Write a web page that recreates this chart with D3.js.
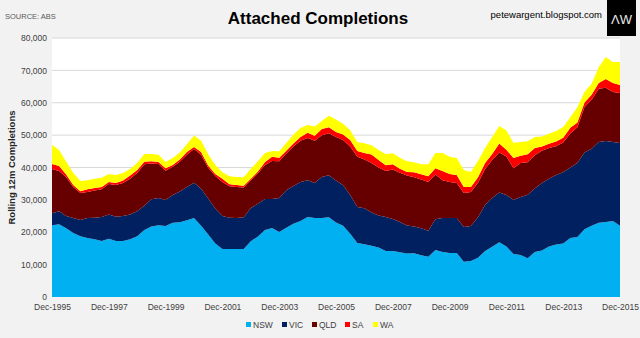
<!DOCTYPE html>
<html>
<head>
<meta charset="utf-8">
<script src="https://cdn.jsdelivr.net/npm/d3@7"></script>
<style>
  body { margin: 0; background: #f2f2f2; }
  svg { display: block; }
  .narrow { font-family: "Liberation Sans Narrow", "Arial Narrow", "Liberation Sans", sans-serif; }
</style>
</head>
<body>
<svg id="chart" width="640" height="338"></svg>
<script>
// quarterly rolling 12m completions, Dec-1995 .. Dec-2015
const seriesNames = ["NSW", "VIC", "QLD", "SA", "WA"];
const seriesColors = ["#00b0f0", "#002060", "#660000", "#ff0000", "#ffff00"];

const nsw = [22200, 22500, 21200, 19800, 18800, 18200, 17800, 17300, 18000, 17300,
  17300, 17800, 18800, 20700, 21800, 22200, 21900, 22900, 23100, 23700,
  24400, 22000, 19300, 16500, 14800, 14800, 14800, 14800, 17200, 18700,
  20700, 21300, 20100, 21400, 22600, 23500, 24700, 24400, 24400, 24600,
  23000, 22000, 19500, 16700, 16300, 15800, 15300, 14200, 14200, 13800,
  13400, 13500, 12900, 12400, 14500, 13900, 13600, 13600, 10900, 11100,
  12100, 14200, 15500, 16900, 15600, 13300, 13000, 12000, 13900, 14400,
  15600, 16200, 16500, 18200, 18500, 20900, 22000, 22900, 23200, 23500, 22000];
const vic = [3700, 4000, 3800, 4600, 5000, 6200, 6700, 7400, 7500, 7500,
  7700, 7700, 7700, 7500, 8400, 8400, 8100, 8600, 9500, 10300,
  10900, 11400, 11100, 10800, 10200, 9700, 9600, 9800, 10300, 10100,
  9600, 9000, 10500, 11600, 11700, 12000, 11400, 10800, 12700, 13000,
  13000, 12500, 12000, 11100, 11100, 10300, 9900, 10500, 9900, 9400,
  8700, 8300, 8300, 8100, 9500, 10500, 10800, 10800, 10700, 10800,
  12500, 14200, 15100, 15400, 15900, 16700, 17900, 19600, 19600, 20800,
  20900, 21500, 22000, 21800, 22900, 23700, 23800, 25000, 25000, 24400, 25600];
const qld = [13600, 12400, 12000, 9600, 8300, 8000, 8400, 8600, 9400, 9800,
  10200, 11000, 11800, 12800, 11000, 10500, 9000, 8700, 9200, 9900,
  10400, 10500, 9500, 10100, 10500, 9700, 9600, 9200, 8500, 9400,
  10500, 11700, 11300, 11300, 12200, 12800, 13000, 13100, 12900, 13000,
  13400, 14000, 15000, 15500, 15100, 15300, 14800, 14200, 15300, 15200,
  15400, 15200, 15100, 15000, 13800, 11700, 11100, 10800, 10500, 10500,
  10700, 11100, 11700, 12300, 11900, 9800, 10500, 10000, 10300, 10000,
  9500, 8900, 9200, 10500, 11000, 14100, 15100, 16400, 16400, 15400, 15400];
const sa = [1600, 1600, 800, 600, 600, 900, 800, 700, 600, 600,
  800, 1000, 900, 800, 700, 600, 800, 600, 700, 900,
  600, 900, 700, 600, 1000, 600, 600, 600, 500, 600,
  900, 1300, 1100, 900, 900, 1100, 1600, 1500, 1900, 1800,
  1600, 1700, 2000, 1800, 2000, 2600, 2300, 1800, 1600, 1200,
  1100, 1500, 1600, 1800, 2000, 2800, 2500, 2500, 1900, 1600,
  1700, 1900, 1900, 2800, 2100, 3100, 2200, 2500, 2200, 1300,
  1300, 1400, 1500, 1800, 1500, 1400, 1600, 1800, 2700, 2800, 2500];
const wa = [5900, 4900, 4000, 3700, 3100, 2800, 2800, 2800, 2500, 2500,
  2300, 2000, 2200, 2400, 2300, 2200, 1900, 2100, 2100, 2400,
  3600, 3500, 3500, 2800, 2000, 2500, 2500, 2600, 3100, 3100,
  2800, 1800, 2000, 2400, 2700, 2800, 2400, 2900, 2500, 3600,
  3800, 3300, 3000, 2800, 3000, 2900, 3100, 3400, 3400, 3400,
  3300, 3100, 3100, 3700, 4700, 5600, 5300, 5200, 5200, 4600,
  5000, 4600, 5200, 5400, 5900, 4700, 4300, 4000, 3400, 3100,
  3100, 3300, 3300, 3200, 4700, 3300, 3400, 4900, 6800, 6500, 7100];

const xTickLabels = ["Dec-1995", "Dec-1997", "Dec-1999", "Dec-2001", "Dec-2003", "Dec-2005",
  "Dec-2007", "Dec-2009", "Dec-2011", "Dec-2013", "Dec-2015"];
const yTicks = [0, 10000, 20000, 30000, 40000, 50000, 60000, 70000, 80000];

// quarter labels
const months = ["Mar", "Jun", "Sep", "Dec"];
const quarters = ["Dec-1995"];
for (let y = 1996; y <= 2015; y++) months.forEach(m => quarters.push(m + "-" + y));

const rows = quarters.map((q, i) => ({
  q, NSW: nsw[i], VIC: vic[i], QLD: qld[i], SA: sa[i], WA: wa[i]
}));

const margin = { top: 38, right: 20, bottom: 41, left: 52 };
const W = 640, H = 338;
const svg = d3.select("#chart");

const x = d3.scalePoint().domain(quarters).range([margin.left, W - margin.right]);
const y = d3.scaleLinear().domain([0, 80000]).range([H - margin.bottom, margin.top]);

// plot area
svg.append("rect")
  .attr("x", margin.left).attr("y", margin.top)
  .attr("width", W - margin.right - margin.left)
  .attr("height", H - margin.bottom - margin.top)
  .attr("fill", "#ffffff");

// gridlines
svg.append("g")
  .selectAll("line")
  .data(yTicks.slice(1))
  .join("line")
  .attr("x1", margin.left).attr("x2", W - margin.right)
  .attr("y1", d => y(d)).attr("y2", d => y(d))
  .attr("stroke", "#d9d9d9").attr("stroke-width", 1);

const stack = d3.stack().keys(seriesNames);
const layers = stack(rows);

const area = d3.area()
  .x(d => x(d.data.q))
  .y0(d => y(d[0]))
  .y1(d => y(d[1]));

svg.append("g")
  .selectAll("path")
  .data(layers)
  .join("path")
  .attr("fill", (d, i) => seriesColors[i])
  .attr("d", area);

// y axis
const yAxis = d3.axisLeft(y).tickValues(yTicks).tickSize(0).tickPadding(5)
  .tickFormat(d3.format(","));
svg.append("g")
  .attr("transform", `translate(${margin.left},0)`)
  .call(yAxis)
  .call(g => g.select(".domain").remove())
  .selectAll("text")
  .attr("class", "narrow")
  .attr("font-size", 8.5)
  .attr("fill", "#404040");

// x axis
const xAxis = d3.axisBottom(x).tickValues(xTickLabels).tickSize(0).tickPadding(7);
svg.append("g")
  .attr("transform", `translate(0,${H - margin.bottom})`)
  .call(xAxis)
  .call(g => g.select(".domain").remove())
  .selectAll("text")
  .attr("class", "narrow")
  .attr("font-size", 8.5)
  .attr("fill", "#404040");

// axis title
svg.append("text")
  .attr("transform", `translate(15,${(margin.top + H - margin.bottom) / 2}) rotate(-90)`)
  .attr("text-anchor", "middle")
  .attr("font-family", "Liberation Sans, Arial, sans-serif")
  .attr("font-weight", "bold")
  .attr("font-size", 9.5)
  .attr("fill", "#262626")
  .text("Rolling 12m Completions");

// titles
svg.append("text")
  .attr("class", "narrow")
  .attr("x", 318).attr("y", 24)
  .attr("text-anchor", "middle")
  .attr("font-weight", "bold")
  .attr("font-size", 17)
  .attr("fill", "#000")
  .text("Attached Completions");

svg.append("text")
  .attr("class", "narrow")
  .attr("x", 5).attr("y", 19)
  .attr("font-size", 7.5)
  .attr("fill", "#595959")
  .text("SOURCE: ABS");

svg.append("text")
  .attr("x", 602).attr("y", 18)
  .attr("text-anchor", "end")
  .attr("font-family", "Liberation Sans, Arial, sans-serif")
  .attr("font-size", 9.5)
  .attr("fill", "#000")
  .text("petewargent.blogspot.com");

// logo
svg.append("rect")
  .attr("x", 607).attr("y", 0).attr("width", 29).attr("height", 36)
  .attr("fill", "#000");
svg.append("text")
  .attr("x", 621.5).attr("y", 24)
  .attr("text-anchor", "middle")
  .attr("font-family", "Liberation Sans, Arial, sans-serif")
  .attr("font-size", 13)
  .attr("fill", "#e8e8e8")
  .text("\u039BW");

// legend
const legendX = [246, 282, 312, 345, 373];
const legend = svg.append("g").attr("class", "narrow");
seriesNames.forEach((name, i) => {
  legend.append("rect")
    .attr("x", legendX[i]).attr("y", 322)
    .attr("width", 5).attr("height", 5)
    .attr("fill", seriesColors[i]);
  legend.append("text")
    .attr("x", legendX[i] + 7).attr("y", 328)
    .attr("font-size", 8.5)
    .attr("fill", "#404040")
    .text(name);
});
</script>
</body>
</html>
